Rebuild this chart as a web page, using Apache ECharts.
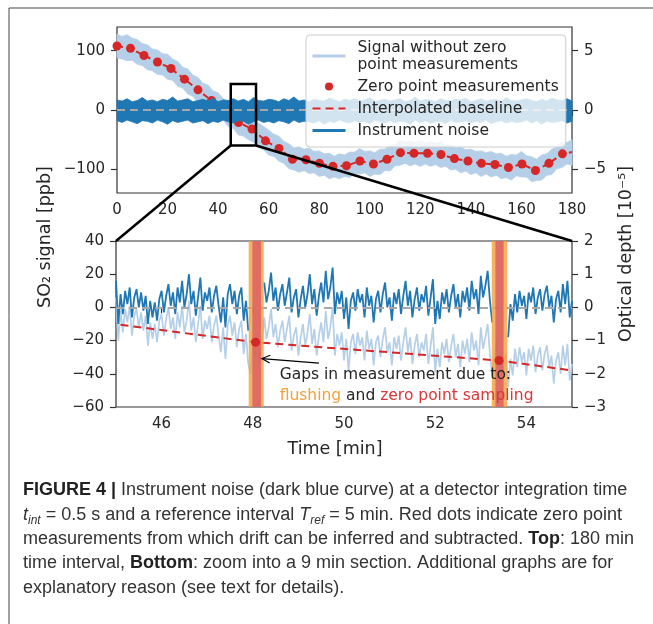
<!DOCTYPE html>
<html>
<head>
<meta charset="utf-8">
<script src="https://cdn.jsdelivr.net/npm/echarts@6.0.0/dist/echarts.min.js"></script>
<style>
  html, body { margin: 0; padding: 0; background: #ffffff; }
  #chart { width: 653px; height: 624px; }
</style>
</head>
<body>
<div id="chart"></div>
<script>
// ---- data ----
// zero point measurements (red dots), time in min / value in ppb
const zeroPointTimes = [0, 5.34, 10.68, 16.02, 21.36, 26.7, 32.04, 37.38, 42.72, 48.06,
  53.4, 58.74, 64.08, 69.42, 74.76, 80.1, 85.44, 90.78, 96.12, 101.46,
  106.8, 112.14, 117.48, 122.82, 128.16, 133.5, 138.84, 144.18, 149.52, 154.86,
  160.2, 165.54, 170.88, 176.22];
const zeroPointValues = [108, 104, 92, 81, 70, 52, 34, 16, -2, -21,
  -32, -52, -65, -83, -84, -90, -95, -94, -86, -91,
  -83, -72, -73, -73, -75, -82, -86, -90, -92, -97,
  -91, -102, -90, -74];
const baselineEndTime = 180;
const baselineEndValue = -71;

// top panel (0-180 min), envelopes sampled every 2 min
const topStep = 2;
const signalHi = [128, 124, 127, 121, 119, 112, 110, 103, 101, 95,
  94, 86, 82, 72, 69, 59, 55, 45, 42, 32,
  29, 19, 15, 4, -2, -5, -9, -16, -22, -28,
  -34, -41, -44, -53, -57, -64, -62, -66, -64, -70,
  -69, -74, -73, -78, -74, -76, -71, -71, -65, -70,
  -69, -72, -66, -66, -60, -58, -51, -54, -52, -55,
  -52, -55, -53, -56, -54, -60, -59, -64, -63, -67,
  -66, -70, -69, -72, -70, -74, -73, -78, -75, -76,
  -70, -77, -79, -83, -76, -74, -66, -63, -54, -55,
  -50];
const signalLo = [88, 86, 83, 84, 77, 75, 68, 66, 60, 59,
  52, 50, 40, 37, 27, 23, 13, 9, 0, -4,
  -14, -17, -28, -31, -42, -44, -50, -54, -63, -67,
  -76, -78, -86, -90, -99, -101, -105, -102, -107, -106,
  -112, -110, -116, -113, -116, -112, -114, -107, -108, -106,
  -112, -108, -109, -102, -103, -94, -93, -90, -94, -91,
  -95, -91, -95, -92, -97, -95, -101, -100, -106, -103,
  -109, -106, -112, -108, -113, -110, -116, -114, -118, -111,
  -113, -113, -121, -119, -118, -110, -109, -99, -97, -91,
  -93];
const noiseHi = [17, 15, 19, 14, 16, 21, 15, 17, 14, 18,
  16, 22, 15, 17, 19, 14, 16, 18, 15, 20,
  14, 17, 16, 19, 15, 18, 14, 21, 16, 15,
  18, 17, 14, 19, 16, 22, 15, 17, 14, 18,
  16, 15, 20, 17, 14, 18, 16, 19, 15, 17,
  21, 14, 16, 18, 15, 17, 19, 14, 16, 22,
  15, 18, 17, 14, 19, 16, 15, 18, 17, 20,
  14, 16, 19, 15, 17, 18, 14, 21, 16, 15,
  17, 19, 16, 14, 18, 15, 20, 17, 16, 19,
  15];
const noiseLo = [-18, -21, -17, -20, -23, -18, -19, -22, -17, -20,
  -24, -18, -21, -19, -17, -22, -20, -18, -23, -19,
  -21, -17, -20, -22, -18, -19, -24, -20, -17, -21,
  -19, -22, -18, -20, -23, -17, -21, -19, -20, -22,
  -18, -24, -19, -21, -17, -20, -22, -18, -21, -19,
  -23, -17, -20, -22, -18, -21, -19, -20, -24, -17,
  -21, -18, -22, -20, -19, -23, -17, -21, -20, -18,
  -22, -19, -21, -17, -23, -20, -18, -22, -19, -21,
  -20, -17, -22, -18, -24, -19, -21, -20, -18, -22,
  -19];

// bottom panel (45-55 min), sampled every 0.05 min
const zoomStart = 45;
const zoomStep = 0.05;
const zoomNoise = [16, -10, 8, -4, 10, 2, 12, -6, 6, 11,
  0, 9, -2, 7, -10, 4, -6, 3, -8, 5,
  10, -3, 7, 14, 1, 9, -4, 12, 3, 16,
  0, 8, 20, 2, 10, -5, 6, 18, -2, 9,
  4, 12, -3, 7, 13, 1, -9, 6, -12, 8,
  14, 2, 10, -4, 7, 12, -8, 4, -14, null,
  null, null, null, null, null, 15, 3, 10, 21, 4,
  12, -2, 8, 14, 1, 9, 18, -3, 6, 11,
  -6, 5, 13, 0, 8, 20, 2, 11, -5, 7,
  15, 3, 22, 5, 12, 24, -4, 9, 2, 10,
  -7, 6, -13, 4, 9, -2, 11, 3, 8, -6,
  12, 1, 7, -9, 5, 10, -3, 8, 15, 0,
  6, -8, 9, 2, 11, -4, 7, 16, 1, 10,
  -6, 5, 12, -2, 8, 3, 13, -5, 6, 17,
  -10, 4, -7, 9, 2, 11, -3, 7, 14, 0,
  8, -6, 10, 3, 12, -2, 16, 5, 11, -4,
  19, 6, 13, 22, 4, -9, null, null, null, null,
  null, null, -18, 2, -8, 8, -3, 10, 1, 7,
  -7, 9, 3, 12, -4, 6, 11, -2, 8, 13,
  0, 7, -9, 5, 10, -3, 14, 2, 16, -6,
  4];
const zoomSignal = [6, -20, -2, -15, -1, -9, 1, -17, -5, -1,
  -12, -3, -14, -5, -23, -9, -19, -10, -21, -8,
  -4, -17, -7, 0, -13, -6, -19, -3, -12, 1,
  -15, -8, 4, -14, -6, -21, -10, 1, -19, -8,
  -13, -5, -21, -11, -5, -17, -27, -12, -31, -11,
  -5, -17, -9, -24, -13, -8, -28, -16, -34, -40,
  -24, -30, -18, -33, -22, -6, -19, -12, -1, -18,
  -10, -24, -14, -8, -21, -13, -5, -26, -17, -12,
  -29, -18, -10, -23, -15, -4, -22, -13, -29, -17,
  -9, -21, -2, -19, -12, 0, -29, -16, -23, -15,
  -32, -19, -38, -21, -16, -28, -15, -23, -18, -32,
  -14, -25, -19, -35, -21, -17, -30, -19, -12, -27,
  -21, -35, -18, -25, -17, -32, -21, -12, -27, -18,
  -34, -23, -16, -30, -21, -26, -16, -34, -23, -12,
  -39, -25, -36, -21, -28, -19, -33, -23, -16, -30,
  -22, -36, -20, -28, -19, -33, -15, -26, -20, -35,
  -12, -25, -18, -10, -28, -41, -30, -20, -36, -26,
  -40, -28, -48, -31, -41, -25, -36, -24, -33, -27,
  -41, -25, -32, -23, -39, -29, -24, -38, -28, -23,
  -36, -29, -46, -32, -27, -40, -23, -35, -22, -44,
  -34];
const flushSpans = [[47.91, 48.24], [53.24, 53.58]];
const samplingSpans = [[47.99, 48.18], [53.32, 53.50]];

// tick labels
const topXTicks = [0, 20, 40, 60, 80, 100, 120, 140, 160, 180];
const topYTicks = [-100, 0, 100];
const topY2Ticks = [-5, 0, 5];
const zoomXTicks = [46, 48, 50, 52, 54];

// ---- names / colours ----
const signalName = 'Signal without zero\npoint measurements';
const dotsName = 'Zero point measurements';
const baseName = 'Interpolated baseline';
const noiseName = 'Instrument noise';
const darkBlue = '#1f77b4';
const lightBlue = '#b4cfe7';
const red = '#d62728';
const ink = '#262626';
const dejavu = 'DejaVu Sans';

const topTimes = noiseHi.map((_, i) => i * topStep);
const zoomTimes = zoomNoise.map((_, i) => zoomStart + i * zoomStep);
const dotPairs = zeroPointTimes.map((t, i) => [t, zeroPointValues[i]]);
const basePairs = dotPairs.concat([[baselineEndTime, baselineEndValue]]);

const minus = v => String(v).replace('-', '\u2212');

// polygon between lo and hi envelopes
function band(lo, hi, color) {
  const rows = topTimes.map((t, i) => [t, lo[i], hi[i]]);
  return {
    rows: rows,
    render: function (params, api) {
      if (params.dataIndex !== 0) return null;
      const up = rows.map(r => api.coord([r[0], r[2]]));
      const dn = rows.map(r => api.coord([r[0], r[1]])).reverse();
      return {
        type: 'polygon',
        shape: { points: up.concat(dn) },
        style: { fill: color, stroke: color, lineWidth: 0.8 }
      };
    }
  };
}
const sigBand = band(signalLo, signalHi, lightBlue);
const noiseBand = band(noiseLo, noiseHi, darkBlue);

function xAxisOf(grid, min, max, ticks, extra) {
  return Object.assign({
    gridIndex: grid, type: 'value', min: min, max: max,
    axisLine: { show: false }, splitLine: { show: false },
    axisTick: { show: true, length: 6, lineStyle: { color: '#333', width: 1.2 }, customValues: ticks },
    axisLabel: { fontFamily: dejavu, fontSize: 15, color: ink, margin: 10, customValues: ticks, formatter: minus }
  }, extra || {});
}
function yAxisOf(grid, pos, min, max, ticks, interval) {
  const ax = {
    gridIndex: grid, type: 'value', position: pos, min: min, max: max,
    axisLine: { show: false }, splitLine: { show: false },
    axisTick: { show: true, length: 6, lineStyle: { color: '#333', width: 1.2 } },
    axisLabel: { fontFamily: dejavu, fontSize: 15, color: ink, margin: 12, formatter: minus }
  };
  if (ticks) { ax.axisTick.customValues = ticks; ax.axisLabel.customValues = ticks; }
  if (interval) ax.interval = interval;
  return ax;
}

const gapAreas = flushSpans.map(s => [{ xAxis: s[0], itemStyle: { color: 'rgba(245,160,60,0.8)' } }, { xAxis: s[1] }])
  .concat(samplingSpans.map(s => [{ xAxis: s[0], itemStyle: { color: 'rgba(215,85,100,0.75)' } }, { xAxis: s[1] }]));

function zeroLine() {
  return {
    silent: true, z: 5, symbol: ['none', 'none'], label: { show: false },
    lineStyle: { color: '#a8a8a8', width: 2, type: [8, 5] },
    data: [{ yAxis: 0 }]
  };
}

// axis indices: x 0 = top, x 1 = bottom; y 0/1 = top left/right, y 2/3 = bottom left/right
const option = {
  animation: false,
  backgroundColor: '#ffffff',
  grid: [
    { left: 117, top: 27, width: 455, height: 166, show: true, borderColor: '#333', borderWidth: 1.2 },
    { left: 116, top: 241, width: 456, height: 166, show: true, borderColor: '#333', borderWidth: 1.2 }
  ],
  xAxis: [
    xAxisOf(0, 0, 180, topXTicks),
    xAxisOf(1, 45, 55, zoomXTicks, {
      name: 'Time [min]', nameLocation: 'middle', nameGap: 33,
      nameTextStyle: { fontFamily: dejavu, fontSize: 17.5, color: ink, padding: [0, 18, 0, 0] }
    })
  ],
  yAxis: [
    yAxisOf(0, 'left', -140, 140, topYTicks),
    yAxisOf(0, 'right', -7, 7, topY2Ticks),
    yAxisOf(1, 'left', -60, 40, null, 20),
    yAxisOf(1, 'right', -3, 2, null, 1)
  ],
  legend: {
    orient: 'vertical', left: 306, top: 35, z: 20,
    padding: [4, 7, 8, 5], itemGap: 5, itemWidth: 33, itemHeight: 8,
    selectedMode: false,
    backgroundColor: 'rgba(255,255,255,0.8)', borderColor: '#cccccc', borderWidth: 1, borderRadius: 4,
    textStyle: { fontFamily: dejavu, fontSize: 15.5, lineHeight: 17, color: ink, padding: [0, 0, 0, 7] },
    data: [
      { name: signalName, lineStyle: { width: 3 }, itemStyle: { opacity: 0 } },
      { name: dotsName },
      { name: baseName, lineStyle: { width: 2.2 }, itemStyle: { opacity: 0 } },
      { name: noiseName, lineStyle: { width: 3 }, itemStyle: { opacity: 0 } }
    ]
  },
  series: [
    // bottom panel
    {
      name: signalName, type: 'line', xAxisIndex: 1, yAxisIndex: 2, z: 2,
      symbol: 'none', data: zoomTimes.map((t, i) => [t, zoomSignal[i]]),
      lineStyle: { color: lightBlue, width: 1.7 }, itemStyle: { color: lightBlue }
    },
    {
      name: noiseName, type: 'line', xAxisIndex: 1, yAxisIndex: 2, z: 4,
      symbol: 'none', connectNulls: false, data: zoomTimes.map((t, i) => [t, zoomNoise[i]]),
      lineStyle: { color: darkBlue, width: 1.8 }, itemStyle: { color: darkBlue }
    },
    {
      name: baseName, type: 'line', xAxisIndex: 1, yAxisIndex: 2, z: 3,
      symbol: 'none', data: basePairs,
      lineStyle: { color: red, width: 2, type: [8, 5] }, itemStyle: { color: red }
    },
    {
      type: 'line', xAxisIndex: 1, yAxisIndex: 2, z: 5, data: [], markLine: zeroLine()
    },
    {
      type: 'line', xAxisIndex: 1, yAxisIndex: 2, z: 6, data: [],
      markArea: { silent: true, z: 6, data: gapAreas }
    },
    {
      name: dotsName, type: 'scatter', xAxisIndex: 1, yAxisIndex: 2, z: 8,
      symbol: 'circle', symbolSize: 9, data: dotPairs, itemStyle: { color: red, opacity: 1 }
    },
    // top panel
    {
      name: signalName, type: 'custom', xAxisIndex: 0, yAxisIndex: 0, z: 1,
      data: sigBand.rows, encode: { x: 0, y: [1, 2] }, renderItem: sigBand.render,
      itemStyle: { color: lightBlue }
    },
    {
      name: baseName, type: 'line', xAxisIndex: 0, yAxisIndex: 0, z: 2,
      symbol: 'none', data: basePairs,
      lineStyle: { color: red, width: 2, type: [6, 4] }
    },
    {
      name: dotsName, type: 'scatter', xAxisIndex: 0, yAxisIndex: 0, z: 3,
      symbol: 'circle', symbolSize: 9, data: dotPairs, itemStyle: { color: red, opacity: 1 }
    },
    {
      name: noiseName, type: 'custom', xAxisIndex: 0, yAxisIndex: 0, z: 4,
      data: noiseBand.rows, encode: { x: 0, y: [1, 2] }, renderItem: noiseBand.render,
      itemStyle: { color: darkBlue }
    },
    {
      type: 'line', xAxisIndex: 0, yAxisIndex: 0, z: 5, data: [], markLine: zeroLine()
    }
  ]
};

const chart = echarts.init(document.getElementById('chart'), null, { renderer: 'canvas' });
chart.setOption(option);

// ---- zoom box, connectors, annotation, labels, caption ----
const toTop = v => chart.convertToPixel({ xAxisIndex: 0, yAxisIndex: 0 }, v);
const toBot = v => chart.convertToPixel({ xAxisIndex: 1, yAxisIndex: 2 }, v);

const boxA = toTop([45, 44]);
const boxB = toTop([55, -60]);
const zoomL = toBot([45, 40]);
const zoomR = toBot([55, 40]);

const tip = toBot([48.2, -30.8]);
const tail = toBot([49.45, -33.6]);
const ang = Math.atan2(tip[1] - tail[1], tip[0] - tail[0]);
const head = [
  [tip[0] - 9 * Math.cos(ang - 0.45), tip[1] - 9 * Math.sin(ang - 0.45)],
  tip,
  [tip[0] - 9 * Math.cos(ang + 0.45), tip[1] - 9 * Math.sin(ang + 0.45)]
];
const note1 = toBot([48.59, -40.8]);
const note2 = toBot([48.59, -53.3]);

const capFont = 'Liberation Sans';
const capSize = 18;
const capRich = {
  b: { fontFamily: capFont, fontSize: capSize, fontWeight: 'bold', fill: '#222' },
  i: { fontFamily: capFont, fontSize: capSize, fontStyle: 'italic', fill: '#333' },
  s: { fontFamily: capFont, fontSize: 12, fontStyle: 'italic', fill: '#333', verticalAlign: 'bottom', lineHeight: 15 },
  n: { fontFamily: capFont, fontSize: capSize, fill: '#333', lineHeight: 24 }
};
const captionLines = [
  '{b|FIGURE 4 |}{n| Instrument noise (dark blue curve) at a detector integration time}',
  '{i|t}{s|int}{n| = 0.5 s and a reference interval }{i|T}{s|ref}{n| = 5 min. Red dots indicate zero point}',
  '{n|measurements from which drift can be inferred and subtracted. }{b|Top}{n|: 180 min}',
  '{n|time interval, }{b|Bottom}{n|: zoom into a 9 min section. Additional graphs are for}',
  '{n|explanatory reason (see text for details).}'
];
const captionY = [490, 515, 539, 563, 588];

const graphics = [
  { type: 'rect', z: 0, silent: true, shape: { x: 9, y: 8, width: 700, height: 700 },
    style: { fill: 'none', stroke: '#444', lineWidth: 1 } },
  { type: 'rect', z: 100, silent: true,
    shape: { x: boxA[0], y: boxA[1], width: boxB[0] - boxA[0], height: boxB[1] - boxA[1] },
    style: { fill: 'none', stroke: '#000', lineWidth: 2.5 } },
  { type: 'line', z: 100, silent: true,
    shape: { x1: boxA[0], y1: boxB[1], x2: zoomL[0], y2: zoomL[1] },
    style: { stroke: '#000', lineWidth: 2.5 } },
  { type: 'line', z: 100, silent: true,
    shape: { x1: boxB[0], y1: boxB[1], x2: zoomR[0], y2: zoomR[1] },
    style: { stroke: '#000', lineWidth: 2.5 } },
  { type: 'line', z: 100, silent: true,
    shape: { x1: tail[0], y1: tail[1], x2: tip[0], y2: tip[1] },
    style: { stroke: '#000', lineWidth: 1.2 } },
  { type: 'polyline', z: 100, silent: true, shape: { points: head },
    style: { fill: 'none', stroke: '#000', lineWidth: 1.2 } },
  { type: 'text', z: 100, silent: true, x: note1[0], y: note1[1],
    style: { text: 'Gaps in measurement due to:', fontFamily: dejavu, fontSize: 15.5, fill: ink, verticalAlign: 'middle' } },
  { type: 'text', z: 100, silent: true, x: note2[0], y: note2[1],
    style: {
      text: '{o|flushing} {k|and} {r|zero point sampling}', verticalAlign: 'middle',
      fontFamily: dejavu, fontSize: 15.5, fill: ink,
      rich: {
        o: { fontFamily: dejavu, fontSize: 15.5, fill: '#f5a038' },
        k: { fontFamily: dejavu, fontSize: 15.5, fill: ink },
        r: { fontFamily: dejavu, fontSize: 15.5, fill: '#d8383a' }
      }
    } },
  { type: 'text', z: 100, silent: true, x: 45, y: 237, rotation: Math.PI / 2,
    style: { text: 'SO\u2082 signal [ppb]', fontFamily: dejavu, fontSize: 17.5, fill: ink, align: 'center', verticalAlign: 'middle' } },
  { type: 'text', z: 100, silent: true, x: 626, y: 254, rotation: Math.PI / 2,
    style: { text: 'Optical depth [10\u207B\u2075]', fontFamily: dejavu, fontSize: 17.5, fill: ink, align: 'center', verticalAlign: 'middle' } }
];
captionLines.forEach((line, i) => {
  graphics.push({
    type: 'text', z: 100, silent: true, x: 23, y: captionY[i],
    style: { text: line, rich: capRich, fontFamily: capFont, fontSize: capSize, fill: '#333', verticalAlign: 'middle' }
  });
});

chart.setOption({ graphic: graphics });
</script>
</body>
</html>
